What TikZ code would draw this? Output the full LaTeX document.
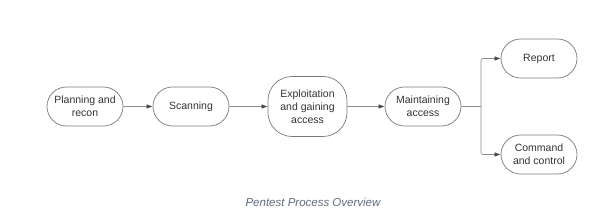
\documentclass[tikz,border=0pt]{standalone}
\usepackage{fontspec}
\setmainfont{Liberation Sans}
\usetikzlibrary{arrows.meta,shapes.misc}
\definecolor{edgegray}{HTML}{7A7A7A}
\definecolor{linegray}{HTML}{8C8C8C}
\definecolor{txt}{HTML}{333333}
\definecolor{cap}{HTML}{5E6B7E}
\begin{document}
\begin{tikzpicture}[x=1pt,y=-1pt,
  stage/.style={draw=edgegray, line width=0.7pt, rounded rectangle, minimum width=78pt, minimum height=39pt, inner sep=1pt, align=center, text=txt, font=\fontsize{10.5}{12.8}\selectfont},
  tallstage/.style={draw=edgegray, line width=0.7pt, rectangle, rounded corners=24pt, minimum width=79pt, minimum height=60pt, inner sep=1pt, align=center, text=txt, font=\fontsize{10.5}{12.8}\selectfont},
  conn/.style={draw=linegray, line width=0.6pt, -{Latex[length=6pt,width=4.5pt,color=txt!90]}}]
\useasboundingbox (0,0) rectangle (616,219);
\node[stage] (plan) at (85,106.5) {Planning and\\recon};
\node[stage] (scan) at (191,106.5) {Scanning};
\node[tallstage] (exploit) at (307.5,106.5) {Exploitation\\and gaining\\access};
\node[stage] (maint) at (423,106.5) {Maintaining\\access};
\node[stage] (report) at (539,58.5) {Report};
\node[stage] (cc) at (539,154.5) {Command\\and control};
\coordinate (branch) at (481,106.5);
\draw[conn] (plan) -- (scan);
\draw[conn] (scan) -- (exploit);
\draw[conn] (exploit) -- (maint);
\draw[draw=linegray, line width=0.6pt] (maint) -- (branch);
\draw[conn, rounded corners=2pt] (branch) |- (report);
\draw[conn, rounded corners=2pt] (branch) |- (cc);
\node[text=cap, font=\fontsize{11.5}{13}\selectfont\itshape] (caption) at (313,202.5) {Pentest Process Overview};
\end{tikzpicture}
\end{document}
